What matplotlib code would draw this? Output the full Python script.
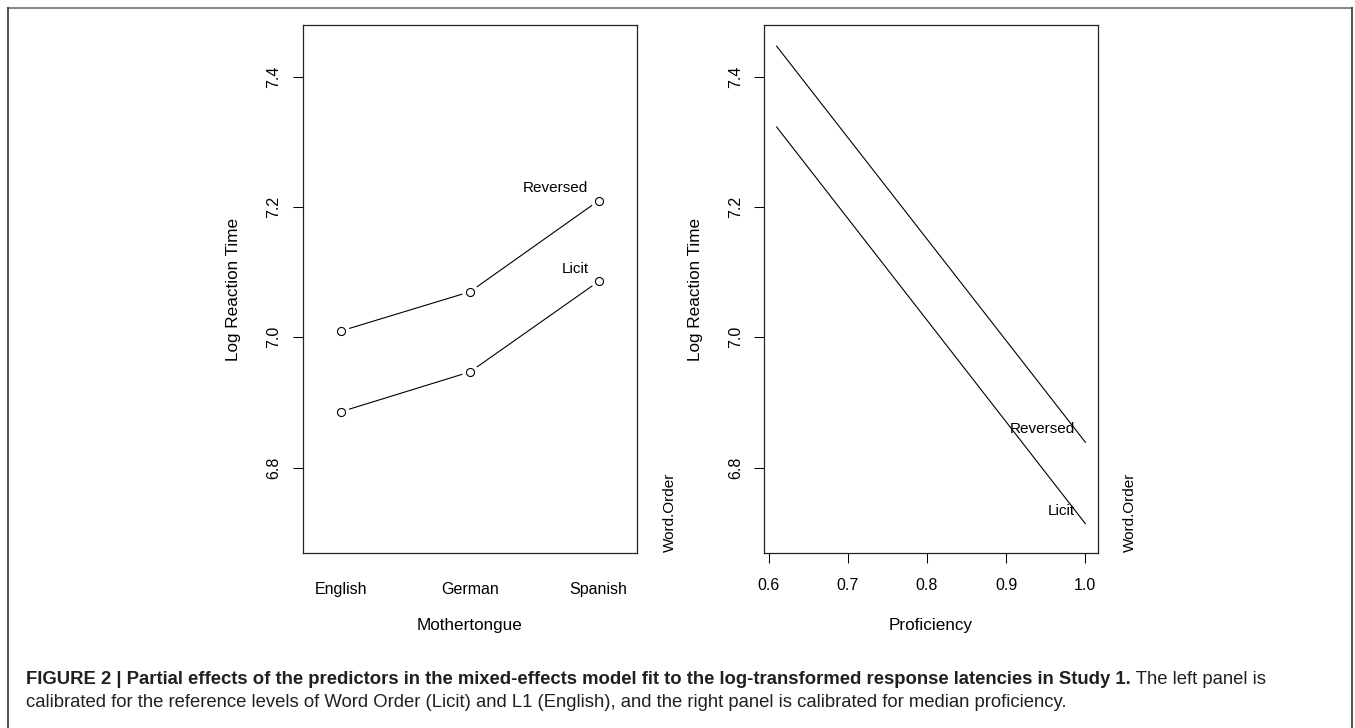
import matplotlib
matplotlib.use("Agg")
import matplotlib.pyplot as plt
from matplotlib.lines import Line2D

plt.rcParams['font.family'] = ['Liberation Sans', 'DejaVu Sans']

# left panel: word order x mother tongue
mothertongue = ['English', 'German', 'Spanish']
reversed_rt = [7.010, 7.070, 7.210]
licit_rt = [6.886, 6.947, 7.086]

# right panel: proficiency
proficiency = [0.61, 1.0]
reversed_prof = [7.447, 6.839]
licit_prof = [7.323, 6.714]

yticks = [6.8, 7.0, 7.2, 7.4]
xticks_prof = [0.6, 0.7, 0.8, 0.9, 1.0]

caption_bold = ("FIGURE 2 | Partial effects of the predictors in the mixed-effects model fit "
                "to the log-transformed response latencies in Study 1.")
caption_rest = " The left panel is"
caption_line2 = ("calibrated for the reference levels of Word Order (Licit) and L1 (English), "
                 "and the right panel is calibrated for median proficiency.")

W, H = 1355, 728
fig = plt.figure(figsize=(W / 100, H / 100), dpi=100)

ax1 = fig.add_axes([302.7 / W, 1 - 553.3 / H, 334.6 / W, 528.6 / H])
ax2 = fig.add_axes([764.3 / W, 1 - 553.3 / H, 333.4 / W, 528.6 / H])

pos = list(range(1, len(mothertongue) + 1))
for ys in [reversed_rt, licit_rt]:
    ax1.plot(pos, ys, color='black', lw=0.8, zorder=1)
    ax1.plot(pos, ys, ls='none', marker='o', ms=12, mfc='white', mec='none', zorder=2)
    ax1.plot(pos, ys, ls='none', marker='o', ms=5.8, mfc='white', mec='black', mew=0.8, zorder=3)

ax1.annotate('Reversed', xy=(pos[-1], reversed_rt[-1]), xytext=(-7.4, 8.8),
             textcoords='offset points', ha='right', va='center', fontsize=11)
ax1.annotate('Licit', xy=(pos[-1], licit_rt[-1]), xytext=(-7.4, 8.8),
             textcoords='offset points', ha='right', va='center', fontsize=11)

ax1.set_xlim(0.7, 3.3)
ax1.set_xticks(pos)
ax1.set_xticklabels(mothertongue)
ax1.tick_params(axis='x', length=10, width=0, pad=10.8, labelsize=11.5)

ax2.plot(proficiency, reversed_prof, color='black', lw=0.8)
ax2.plot(proficiency, licit_prof, color='black', lw=0.8)
ax2.annotate('Reversed', xy=(proficiency[-1], reversed_prof[-1]), xytext=(-7.2, 9.4),
             textcoords='offset points', ha='right', va='center', fontsize=11)
ax2.annotate('Licit', xy=(proficiency[-1], licit_prof[-1]), xytext=(-7.2, 9.4),
             textcoords='offset points', ha='right', va='center', fontsize=11)

ax2.set_xlim(0.5944, 1.0156)
ax2.set_xticks(xticks_prof)
ax2.set_xticklabels(['%.1f' % v for v in xticks_prof])
ax2.tick_params(axis='x', length=7.2, width=0.75, pad=10.8, labelsize=11.5)

for ax, xlab in [(ax1, 'Mothertongue'), (ax2, 'Proficiency')]:
    ax.set_ylim(6.6685, 7.48)
    ax.set_yticks(yticks)
    ax.set_yticklabels(['%.1f' % v for v in yticks])
    ax.tick_params(axis='y', length=7.2, width=0.75, pad=8.0, labelsize=11.5,
                   labelrotation=90)
    for lab in ax.get_yticklabels():
        lab.set_va('center')
    for sp in ax.spines.values():
        sp.set_linewidth(0.9)
        sp.set_color('#222222')
    ax.set_ylabel('Log Reaction Time', fontsize=12.3)
    ax.yaxis.label.set_va('center')
    ax.yaxis.set_label_coords(-0.207, 0.5)
    ax.set_xlabel(xlab, fontsize=12.3)
    ax.xaxis.label.set_va('center')
    ax.xaxis.set_label_coords(0.5, -0.137)
    ax.text(1.097, 0.003, 'Word.Order', transform=ax.transAxes, rotation=90,
            ha='center', va='bottom', fontsize=11)

# outer frame (no bottom edge)
fx0, fx1, fy1 = 8.3 / W, 1352 / W, 1 - 8 / H
fig.add_artist(Line2D([fx0, fx1], [fy1, fy1], color='#8a8a8a', lw=1.5))
fig.add_artist(Line2D([fx0, fx0], [0, fy1], color='#333333', lw=1.2))
fig.add_artist(Line2D([fx1, fx1], [0, fy1], color='#333333', lw=1.2))

# caption
cap_col = '#231f20'
cap_size = 13.3
t1 = fig.text(26 / W, 1 - 684 / H, caption_bold, fontsize=cap_size, fontweight='bold',
              color=cap_col, va='baseline', ha='left')
ax2.annotate(caption_rest, xy=(1, 0), xycoords=t1, ha='left', va='bottom',
             fontsize=cap_size, color=cap_col, annotation_clip=False)
fig.text(26 / W, 1 - 707 / H, caption_line2, fontsize=cap_size, color=cap_col,
         va='baseline', ha='left')

fig.savefig('out.png', dpi=100)
